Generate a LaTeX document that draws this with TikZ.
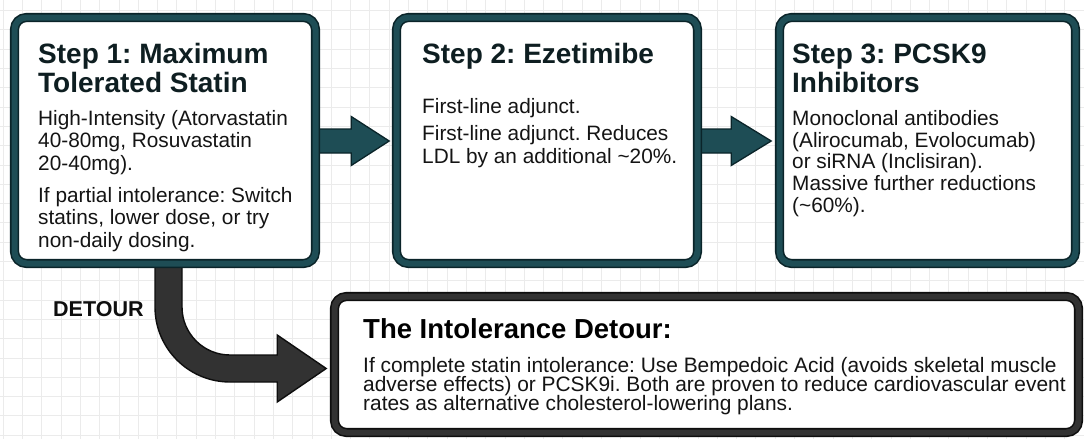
\documentclass[tikz,border=0pt]{standalone}
\usepackage{fontspec}
\setmainfont{Liberation Sans}
\usetikzlibrary{calc}
\frenchspacing
\definecolor{tealline}{RGB}{30,77,85}
\definecolor{tealedge}{RGB}{10,36,41}
\definecolor{greyline}{RGB}{50,50,50}
\definecolor{greyedge}{RGB}{14,14,14}
\definecolor{gridc}{RGB}{235,235,235}
\definecolor{titlec}{RGB}{14,30,33}
\definecolor{bodyc}{RGB}{20,20,20}
\pgfdeclarelayer{back}
\pgfdeclarelayer{mid}
\pgfsetlayers{back,mid,main}
\begin{document}
\begin{tikzpicture}[x=1pt,y=-1pt,
  stepbox/.style={rectangle, rounded corners=12pt, draw=tealedge, double=tealline,
    double distance=6pt, line width=1.6pt, fill=white, inner sep=0pt},
  detourbox/.style={stepbox, draw=greyedge, double=greyline},
  fatarrow/.style={fill=tealline, draw=tealedge, line width=1.3pt, line join=miter},
  bentarrow/.style={fill=greyline, draw=greyedge, line width=1.4pt, line join=miter},
  tit/.style={anchor=base west, inner sep=0pt, text=titlec,
    font=\bfseries\fontsize{28}{29}\selectfont},
  body/.style={anchor=base west, inner sep=0pt, text=bodyc,
    font=\fontsize{20.8}{22}\selectfont},
  dtit/.style={tit, text=black, font=\bfseries\fontsize{27.5}{29}\selectfont},
  dbody/.style={body, font=\fontsize{20.9}{19}\selectfont}]
\useasboundingbox (0,0) rectangle (1084,439);

% background grid
\begin{pgfonlayer}{back}
  \fill[white] (0,0) rectangle (1084,439);
  \foreach \i in {0,...,56} \draw[gridc, line width=0.8pt] (3.1+19.3*\i,0) -- ++(0,439);
  \foreach \j in {0,...,22} \draw[gridc, line width=0.8pt] (0,10.5+19.3*\j) -- ++(1084,0);
\end{pgfonlayer}

% step boxes
\node[stepbox, minimum width=301pt, minimum height=246pt] (s1) at (165,140.5) {};
\node[stepbox, minimum width=301pt, minimum height=246pt] (s2) at (547,140.5) {};
\node[stepbox, minimum width=296pt, minimum height=246pt] (s3) at (927.5,140.5) {};
\node[detourbox, minimum width=744pt, minimum height=136pt] (s4) at (706.5,364.5) {};

% connectors
\begin{pgfonlayer}{mid}
  \coordinate (t1) at ($(s2.west)+(-6.5,0.5)$);
  \coordinate (b1) at ($(t1)+(-38,0)$);
  \filldraw[fatarrow] ($(s1.east|-t1)+(0,-12)$) -- ($(b1)+(0,-12)$) -- ($(b1)+(0,-24.5)$)
    -- (t1) -- ($(b1)+(0,24.5)$) -- ($(b1)+(0,12)$) -- ($(s1.east|-t1)+(0,12)$) -- cycle;
  \coordinate (t2) at ($(s3.west)+(-7.5,0.5)$);
  \coordinate (b2) at ($(t2)+(-40,0)$);
  \filldraw[fatarrow] ($(s2.east|-t2)+(0,-12)$) -- ($(b2)+(0,-12)$) -- ($(b2)+(0,-24.5)$)
    -- (t2) -- ($(b2)+(0,24.5)$) -- ($(b2)+(0,12)$) -- ($(s2.east|-t2)+(0,12)$) -- cycle;
  \coordinate (d0) at ($(s1.south)+(3.5,0)$);
  \coordinate (t3) at ($(s4.west)+(-7.5,4)$);
  \coordinate (k3) at (d0 |- t3);
  \filldraw[bentarrow] ($(d0)+(-13.5,0)$) -- ($(k3)+(-13.5,-61.5)$)
    arc[start angle=180, end angle=90, radius=75]
    -- ($(t3)+(-49,13.5)$) -- ($(t3)+(-49,33.5)$) -- (t3) -- ($(t3)+(-49,-33.5)$)
    -- ($(t3)+(-49,-13.5)$) -- ($(k3)+(61.5,-13.5)$)
    arc[start angle=90, end angle=180, radius=48]
    -- ($(d0)+(13.5,0)$) -- cycle;
\end{pgfonlayer}

\node[anchor=base west, inner sep=0pt, text=greyedge, font=\bfseries\fontsize{21.5}{22}\selectfont] (lbl) at (53,316) {DETOUR};

% step 1
\node[tit] (h1a) at (38,63) {Step 1: Maximum};
\node[tit] (h1b) at (38,92) {Tolerated Statin};
\node[body] (p1a) at (38,125) {High-Intensity (Atorvastatin};
\node[body] (p1b) at (38,147.5) {40-80mg, Rosuvastatin};
\node[body] (p1c) at (38,170) {20-40mg).};
\node[body] (p1d) at (38,202) {If partial intolerance: Switch};
\node[body] (p1e) at (38,224.5) {statins, lower dose, or try};
\node[body] (p1f) at (38,247) {non-daily dosing.};

% step 2
\node[tit] (h2a) at (422,63) {Step 2: Ezetimibe};
\node[body] (p2a) at (422,113) {First-line adjunct.};
\node[body] (p2b) at (422,140) {First-line adjunct. Reduces};
\node[body] (p2c) at (422,163) {LDL by an additional \textasciitilde20\%.};

% step 3
\node[tit] (h3a) at (792,63) {Step 3: PCSK9};
\node[tit] (h3b) at (792,92) {Inhibitors};
\node[body] (p3a) at (792,125) {Monoclonal antibodies};
\node[body] (p3b) at (792,147) {(Alirocumab, Evolocumab)};
\node[body] (p3c) at (792,168) {or siRNA (Inclisiran).};
\node[body] (p3d) at (792,190) {Massive further reductions};
\node[body] (p3e) at (792,212) {(\textasciitilde60\%).};

% detour box
\node[dtit] (h4a) at (363,338) {The Intolerance Detour:};
\node[dbody] (p4a) at (363,372) {If complete statin intolerance: Use Bempedoic Acid (avoids skeletal muscle};
\node[dbody] (p4b) at (363,391) {adverse effects) or PCSK9i. Both are proven to reduce cardiovascular event};
\node[dbody] (p4c) at (363,410) {rates as alternative cholesterol-lowering plans.};
\end{tikzpicture}
\end{document}
